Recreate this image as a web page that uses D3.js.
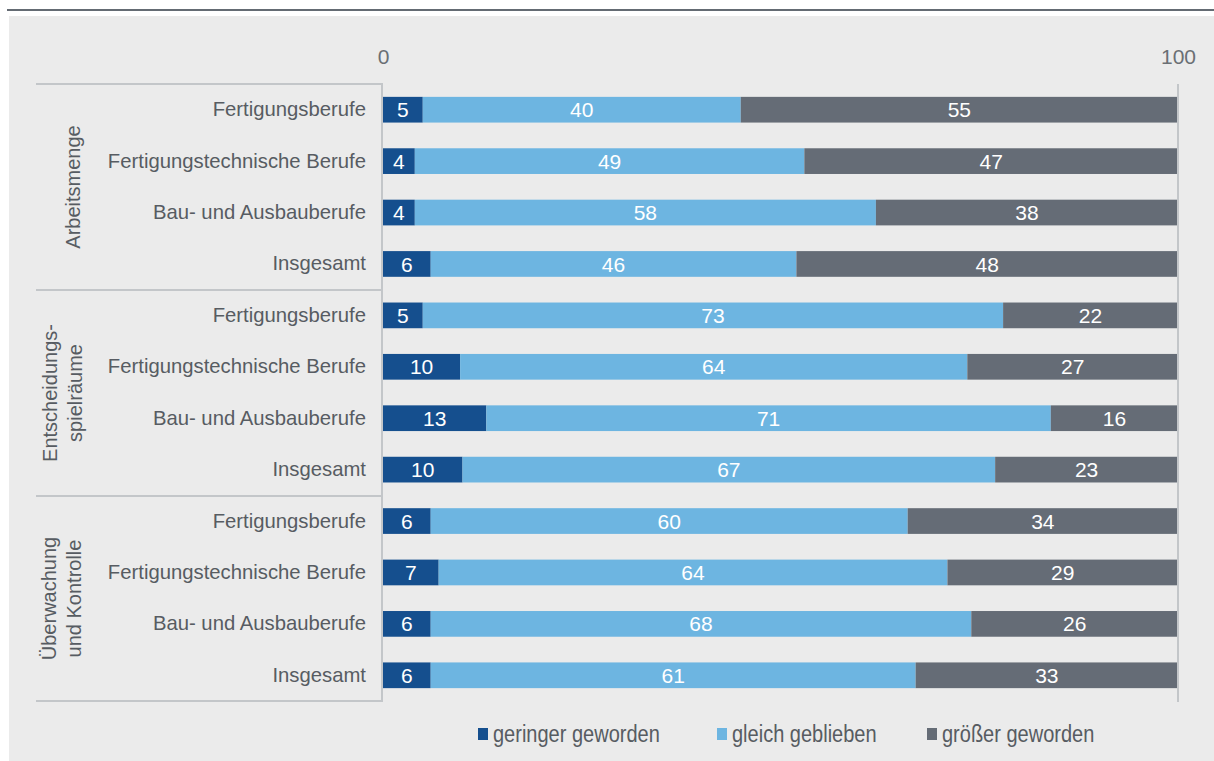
<!DOCTYPE html>
<html><head><meta charset="utf-8">
<script src="https://cdn.jsdelivr.net/npm/d3@7/dist/d3.min.js"></script>
<style>
html,body{margin:0;padding:0;background:#fff;}
svg{display:block;}
</style></head>
<body>
<svg id="chart" width="1214" height="761"></svg>
<script>
const groups = ["Arbeitsmenge", "Entscheidungs-\nspielräume", "Überwachung\nund Kontrolle"];
const categories = ["Fertigungsberufe", "Fertigungstechnische Berufe", "Bau- und Ausbauberufe", "Insgesamt"];
const seriesNames = ["geringer geworden", "gleich geblieben", "größer geworden"];
// values (labels are rounded to whole numbers)
const geringer = [5, 4, 4, 6, 5, 9.7, 13, 10, 6, 7, 6, 6];
const gleich   = [40, 49, 58, 46, 73, 63.8, 71, 67, 60, 64, 68, 61];
const groesser = [55, 47, 38, 48, 22, 26.5, 16, 23, 34, 29, 26, 33];
const xTicks = [0, 100];
const colors = ["#154f8e", "#6db5e1", "#656c76"];

const svg = d3.select("#chart");
const W = 1214, H = 761;
const labelFont = "'Liberation Sans', Arial, sans-serif";
const textCol = "#575c62";

// background panel + top rule
svg.append("rect").attr("x", 9).attr("y", 16).attr("width", W - 9).attr("height", H - 16).attr("fill", "#ebebeb");
svg.append("rect").attr("x", 7).attr("y", 9).attr("width", W - 7).attr("height", 2).attr("fill", "#646b73");

const rows = [];
groups.forEach((g, gi) => categories.forEach((c, ci) => {
  const i = gi * categories.length + ci;
  rows.push({key: i, group: gi, cat: c, vals: [geringer[i], gleich[i], groesser[i]]});
}));

const x = d3.scaleLinear().domain([0, 100]).range([383, 1178]);
const y = d3.scaleBand().domain(rows.map(r => r.key)).range([84, 701]).paddingInner(0.5).paddingOuter(0.25);

// x axis ticks (labels only)
const xAxis = d3.axisTop(x).tickValues(xTicks).tickSize(0).tickFormat(d3.format("d"));
const ax = svg.append("g").attr("transform", "translate(0,67)").call(xAxis);
ax.select(".domain").remove();
ax.selectAll("text").attr("font-family", labelFont).attr("font-size", 21).attr("fill", "#6a6f74");

// stacked bars
const stackData = rows.map(r => ({key: r.key, a: r.vals[0], b: r.vals[1], c: r.vals[2]}));
const stack = d3.stack().keys(["a", "b", "c"])(stackData);
const layer = svg.append("g").selectAll("g").data(stack).join("g").attr("fill", (d, i) => colors[i]);
layer.selectAll("rect").data(d => d).join("rect")
  .attr("x", d => x(d[0])).attr("width", d => x(d[1]) - x(d[0]))
  .attr("y", d => y(d.data.key)).attr("height", y.bandwidth());
const lbl = svg.append("g").selectAll("g").data(stack).join("g");
lbl.selectAll("text").data(d => d).join("text")
  .attr("x", d => (x(d[0]) + x(d[1])) / 2)
  .attr("y", d => y(d.data.key) + y.bandwidth() / 2)
  .attr("dy", "0.36em")
  .attr("text-anchor", "middle")
  .attr("font-family", labelFont).attr("font-size", 21).attr("fill", "#fff")
  .text(d => Math.round(d[1] - d[0]));

// category labels
const yAxis = d3.axisLeft(y).tickSize(0).tickPadding(17).tickFormat(k => rows[k].cat);
const ay = svg.append("g").attr("transform", "translate(383,0)").call(yAxis);
ay.select(".domain").remove();
ay.selectAll("text").attr("font-family", labelFont).attr("font-size", 20.3).attr("fill", textCol);

// frame lines
const lineCol = "#c3c6c9";
const bounds = [84, 290, 496, 701];
svg.append("g").selectAll("line").data(bounds).join("line")
  .attr("x1", 36).attr("x2", 383).attr("y1", d => d).attr("y2", d => d)
  .attr("stroke", lineCol).attr("stroke-width", 2);
svg.append("line").attr("x1", 382).attr("x2", 382).attr("y1", 84).attr("y2", 702).attr("stroke", lineCol).attr("stroke-width", 2);
svg.append("line").attr("x1", x(100)).attr("x2", x(100)).attr("y1", 84).attr("y2", 702).attr("stroke", lineCol).attr("stroke-width", 2);

// group labels (rotated)
const groupCx = [73, 62, 61];
groups.forEach((g, gi) => {
  const lines = g.split("\n");
  const cy = (bounds[gi] + bounds[gi + 1]) / 2;
  const t = svg.append("text")
    .attr("transform", `translate(${groupCx[gi]},${cy}) rotate(-90)`)
    .attr("text-anchor", "middle")
    .attr("font-family", labelFont).attr("font-size", 20).attr("fill", textCol);
  lines.forEach((l, li) => {
    t.append("tspan").attr("x", 0)
      .attr("y", (li - (lines.length - 1) / 2) * 25)
      .attr("dy", "0.35em").text(l);
  });
});

// legend
const legX = [478, 717, 927];
const leg = svg.append("g").selectAll("g").data(seriesNames).join("g")
  .attr("transform", (d, i) => `translate(${legX[i]},734)`);
leg.append("rect").attr("x", 0).attr("y", -6).attr("width", 10).attr("height", 12).attr("fill", (d, i) => colors[i]);
leg.append("text").attr("transform", "translate(15,0) scale(0.87,1)").attr("dy", "0.35em")
  .attr("font-family", labelFont).attr("font-size", 23).attr("fill", textCol).text(d => d);
</script>
</body></html>
